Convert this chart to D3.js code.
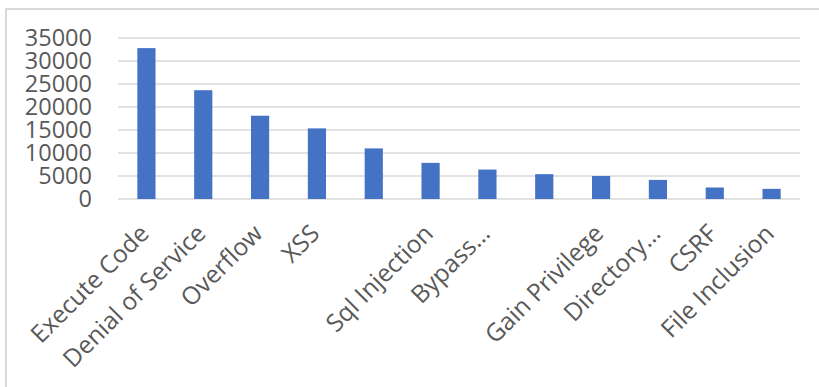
<!DOCTYPE html>
<html>
<head>
<meta charset="utf-8">
<script src="https://cdn.jsdelivr.net/npm/d3@7"></script>
<style>
  body { margin: 0; background: #fff; }
</style>
</head>
<body>
<svg id="chart"></svg>
<script>
// categories (two labels are hidden in the original picture)
const categories = ["Execute Code", "Denial of Service", "Overflow", "XSS", "", "Sql Injection",
  "Bypass\u2026", "", "Gain Privilege", "Directory\u2026", "CSRF", "File Inclusion"];
const counts = [32800, 23650, 18100, 15350, 11000, 7850, 6400, 5400, 5000, 4150, 2500, 2200];
const yTicks = [0, 5000, 10000, 15000, 20000, 25000, 30000, 35000];

const width = 819, height = 387;
const marginTop = 38, marginRight = 19, marginBottom = 188, marginLeft = 118;

const data = categories.map((c, i) => ({ i, name: c, value: counts[i] }));

const svg = d3.select("#chart")
  .attr("width", width)
  .attr("height", height)
  .attr("viewBox", [0, 0, width, height])
  .style("font-family", "'Open Sans', sans-serif");

// outer chart border
svg.append("rect")
  .attr("x", 6).attr("y", 9)
  .attr("width", 820).attr("height", 384)
  .attr("fill", "none")
  .attr("stroke", "#d9d9d9")
  .attr("stroke-width", 2);

const x = d3.scaleBand()
  .domain(data.map(d => d.i))
  .range([marginLeft, width - marginRight])
  .paddingInner(0.68)
  .paddingOuter(0.34);

const y = d3.scaleLinear()
  .domain([0, 35000])
  .range([height - marginBottom, marginTop]);

// gridlines
svg.append("g")
  .selectAll("line")
  .data(yTicks)
  .join("line")
  .attr("x1", marginLeft)
  .attr("x2", width - marginRight)
  .attr("y1", d => y(d))
  .attr("y2", d => y(d))
  .attr("stroke", "#d9d9d9")
  .attr("stroke-width", 1.5);

// y axis labels
svg.append("g")
  .attr("transform", `translate(92,0)`)
  .call(d3.axisLeft(y).tickValues(yTicks).tickSize(0).tickPadding(0).tickFormat(d3.format("d")))
  .call(g => g.select(".domain").remove())
  .call(g => g.selectAll("text")
    .attr("fill", "#595959")
    .style("font-size", "23.5px")
    .style("font-family", "'Open Sans', sans-serif"));

// bars
svg.append("g")
  .attr("fill", "#4472c4")
  .selectAll("rect")
  .data(data)
  .join("rect")
  .attr("x", d => x(d.i))
  .attr("y", d => y(d.value))
  .attr("width", x.bandwidth())
  .attr("height", d => y(0) - y(d.value));

// x labels, rotated
svg.append("g")
  .selectAll("text")
  .data(data)
  .join("text")
  .attr("transform", d => `translate(${x(d.i) + x.bandwidth() / 2 + 4},${y(0) + 36}) rotate(-45)`)
  .attr("text-anchor", "end")
  .attr("fill", "#595959")
  .style("font-size", "24.5px")
  .text(d => d.name);
</script>
</body>
</html>
